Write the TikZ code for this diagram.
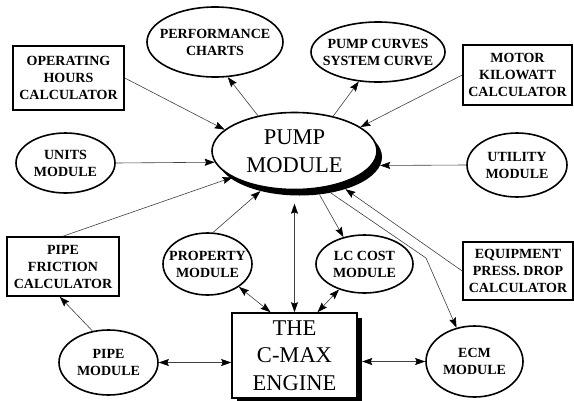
\documentclass[tikz,border=0pt]{standalone}
\usepackage{fontspec}
\setmainfont{Liberation Serif}
\usetikzlibrary{shapes.geometric,arrows.meta,calc}
\newcommand\smalltxt{\bfseries\fontsize{14}{17}\selectfont}
\newcommand\bigtxt{\fontsize{22.5}{27.5}\selectfont}
\begin{document}
\begin{tikzpicture}[x=1pt,y=-1pt,
  boxnode/.style={draw, line width=1.6pt, fill=white, inner sep=0pt, align=center, font=\smalltxt},
  ellnode/.style={ellipse, draw, line width=1.6pt, fill=white, inner sep=0pt},
  lbl/.style={align=center, font=\smalltxt},
  biglbl/.style={align=center, font=\bigtxt},
  shadownode/.style={fill=black, inner sep=0pt},
  conn/.style={draw=black!75, line width=0.6pt, -{Stealth[length=10pt,width=7pt,inset=1.5pt,color=black]}},
  biconn/.style={draw=black!75, line width=0.6pt, {Stealth[length=10pt,width=7pt,inset=1.5pt,color=black]}-{Stealth[length=10pt,width=7pt,inset=1.5pt,color=black]}}
]
\useasboundingbox[fill=white] (0,0) rectangle (574,400);

% top row
\node[boxnode, minimum width=111pt, minimum height=64pt] (oh) at (68.5,78) {OPERATING\\HOURS\\CALCULATOR};
\node[ellnode, minimum width=136pt, minimum height=70pt, label={[lbl]center:{PERFORMANCE\\CHARTS}}] (perf) at (215,42) {};
\node[ellnode, minimum width=134pt, minimum height=60pt, label={[lbl]center:{PUMP CURVES\\SYSTEM CURVE}}] (pc) at (378,52) {};
\node[boxnode, minimum width=109pt, minimum height=60pt] (motor) at (517.5,75) {MOTOR\\KILOWATT\\CALCULATOR};

% middle row
\node[ellnode, minimum width=99pt, minimum height=60pt, label={[lbl]center:{UNITS\\MODULE}}] (units) at (65.5,163) {};
\node[ellnode, minimum width=100pt, minimum height=64pt, label={[lbl]center:{UTILITY\\MODULE}}] (utility) at (517,165) {};

% pump module with shadow
\node[ellipse, shadownode, minimum width=165pt, minimum height=77pt] (pumpsh) at (299.5,157) {};
\node[ellnode, minimum width=165pt, minimum height=77pt, label={[biglbl]center:{PUMP\\MODULE}}] (pump) at (294.5,151) {};

% lower row
\node[boxnode, minimum width=112pt, minimum height=59pt] (pf) at (63,266.5) {PIPE\\FRICTION\\CALCULATOR};
\node[ellnode, minimum width=89pt, minimum height=62pt, label={[lbl]center:{PROPERTY\\MODULE}}] (prop) at (207.5,264) {};
\node[ellnode, minimum width=97pt, minimum height=58pt, label={[lbl]center:{LC COST\\MODULE}}] (lc) at (364.5,264) {};
\node[boxnode, minimum width=110pt, minimum height=58pt] (eq) at (518,271) {EQUIPMENT\\PRESS. DROP\\CALCULATOR};

% bottom row
\node[ellnode, minimum width=99pt, minimum height=65pt, label={[lbl]center:{PIPE\\MODULE}}] (pm) at (108.5,362.5) {};
\node[ellnode, minimum width=97pt, minimum height=71pt, label={[lbl]center:{ECM\\MODULE}}] (ecm) at (474.5,361.5) {};
\node[shadownode, minimum width=125pt, minimum height=85pt] (engsh) at (299.5,360.5) {};
\node[boxnode, font=\bigtxt, minimum width=125pt, minimum height=85pt] (engine) at (294.5,355.5) {THE\\C-MAX\\ENGINE};

\coordinate (bend) at (426,258);

% connectors
\draw[conn] (oh.east) -- (pump.163);
\draw[conn] (units.east) -- (pump.188);
\draw[conn] (pump.136) -- (perf.-70);
\draw[conn] (pump.42) -- (pc.237);
\draw[conn] (motor.west) -- (pump.20);
\draw[conn] (utility.west) -- (pumpsh.-6);
\draw[conn] (pf.north) -- (pump.203);
\draw[conn] (prop.80) -- (pumpsh);
\draw[biconn, shorten >=8pt] (engine.north) -- (engine.north |- pumpsh.south);
\draw[conn] (pumpsh.-62) -- (lc.128);
\draw[conn] (pumpsh.-49) -- (bend) -- (ecm.118);
\draw[conn] (eq.west) -- (pumpsh.-35);
\draw[biconn] (prop.-36) -- (engine.119);
\draw[biconn] (lc.225) -- (engine.62);
\draw[conn] (pm.117) -- (pf.-96);
\draw[biconn] (pm.east) -- (pm.east -| engine.west);
\draw[biconn] (engsh.east |- ecm.west) -- (ecm.west);
\end{tikzpicture}
\end{document}
